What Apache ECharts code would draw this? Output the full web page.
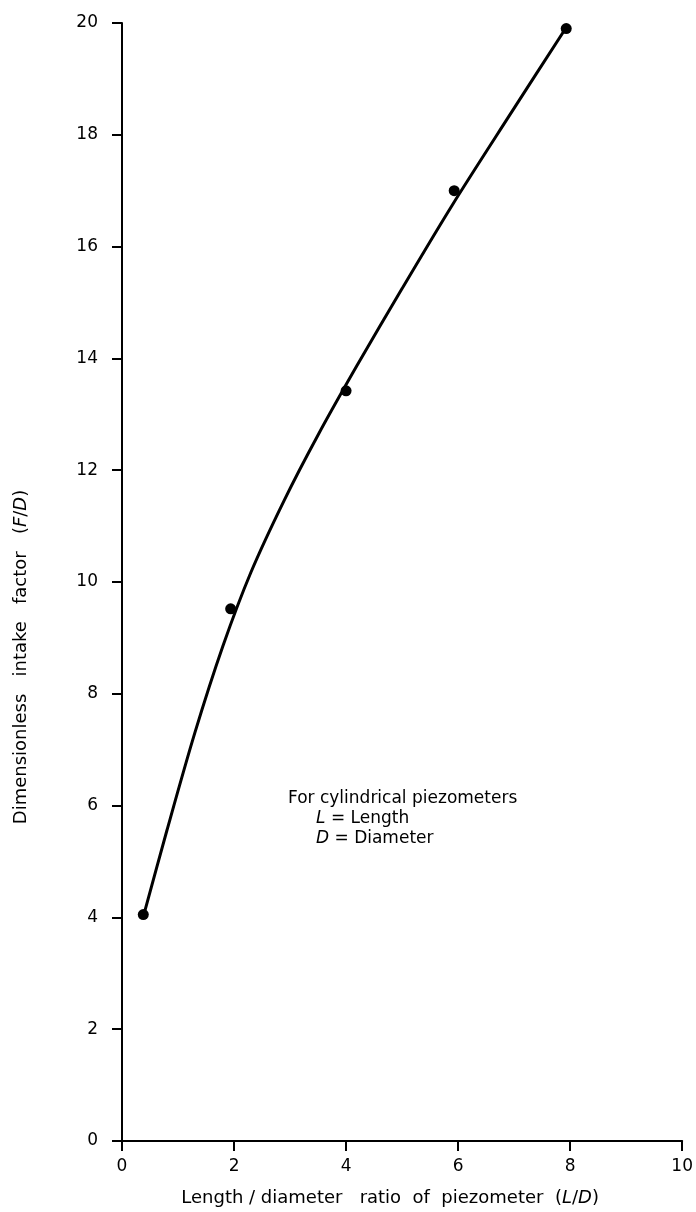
<!DOCTYPE html>
<html>
<head>
<meta charset="utf-8">
<script src="https://cdn.jsdelivr.net/npm/echarts@6/dist/echarts.min.js"></script>
<style>
  html, body { margin: 0; padding: 0; background: #fff; }
  #chart { width: 696px; height: 1212px; }
</style>
</head>
<body>
<div id="chart"></div>
<script>
// measured points (L/D, F/D)
const ratioLD = [0.38, 1.94, 4.0, 5.93, 7.93];
const intakeFD = [4.05, 9.52, 13.42, 17.0, 19.9];

const curveLD = [0.39, 0.8, 1.3, 1.8, 2.3, 2.9, 3.5, 4.2, 5.0, 5.9, 6.9, 7.93];
const curveFD = [4.05, 5.55, 7.3, 8.85, 10.17, 11.47, 12.63, 13.88, 15.25, 16.75, 18.32, 19.92];

const xTicks = [0, 2, 4, 6, 8, 10];
const yTicks = [0, 2, 4, 6, 8, 10, 12, 14, 16, 18, 20];

const noteLines = ['For cylindrical piezometers', '{i|L} = Length', '{i|D} = Diameter'];

const font = 'DejaVu Sans';
const ink = '#000';

const chart = echarts.init(document.getElementById('chart'));

const points = ratioLD.map((x, i) => [x, intakeFD[i]]);
const curve = curveLD.map((x, i) => [x, curveFD[i]]);

chart.setOption({
  animation: false,
  grid: { left: 122, right: 7, top: 23, bottom: 70 },
  xAxis: {
    type: 'value',
    min: xTicks[0],
    max: xTicks[xTicks.length - 1],
    interval: 2,
    splitLine: { show: false },
    axisLine: { lineStyle: { color: ink, width: 2 } },
    axisTick: { inside: false, length: 10, lineStyle: { color: ink, width: 2 } },
    axisLabel: { color: ink, fontFamily: font, fontSize: 17, margin: 17 },
    name: 'Length / diameter   ratio  of  piezometer  ({i|L}/{i|D})',
    nameLocation: 'middle',
    nameGap: 48,
    nameTextStyle: {
      color: ink, fontFamily: font, fontSize: 18,
      padding: [0, 24, 0, 0],
      rich: { i: { fontStyle: 'italic', fontFamily: font, fontSize: 18, color: ink } }
    }
  },
  yAxis: {
    type: 'value',
    min: yTicks[0],
    max: yTicks[yTicks.length - 1],
    interval: 2,
    splitLine: { show: false },
    axisLine: { lineStyle: { color: ink, width: 2 } },
    axisTick: { inside: false, length: 10, lineStyle: { color: ink, width: 2 } },
    axisLabel: { color: ink, fontFamily: font, fontSize: 17, margin: 24 },
    name: 'Dimensionless   intake   factor   ({i|F}/{i|D})',
    nameLocation: 'middle',
    nameRotate: 90,
    nameGap: 92,
    nameTextStyle: {
      color: ink, fontFamily: font, fontSize: 18,
      padding: [0, 150, 0, 0],
      rich: { i: { fontStyle: 'italic', fontFamily: font, fontSize: 18, color: ink } }
    }
  },
  series: [
    {
      name: 'curve',
      type: 'line',
      data: curve,
      smooth: 0.3,
      symbol: 'none',
      lineStyle: { color: ink, width: 3 }
    },
    {
      name: 'points',
      type: 'scatter',
      data: points,
      symbol: 'circle',
      symbolSize: 11,
      itemStyle: { color: ink, opacity: 1 }
    }
  ],
  graphic: [{
    type: 'text',
    left: 288,
    top: 789,
    style: {
      text: noteLines.join('\n'),
      fill: ink,
      font: '17px ' + font,
      lineHeight: 20,
      rich: {
        i: { fontStyle: 'italic', fontSize: 17, fontFamily: font, fill: ink, padding: [0, 0, 0, 28] }
      }
    }
  }]
});
</script>
</body>
</html>
